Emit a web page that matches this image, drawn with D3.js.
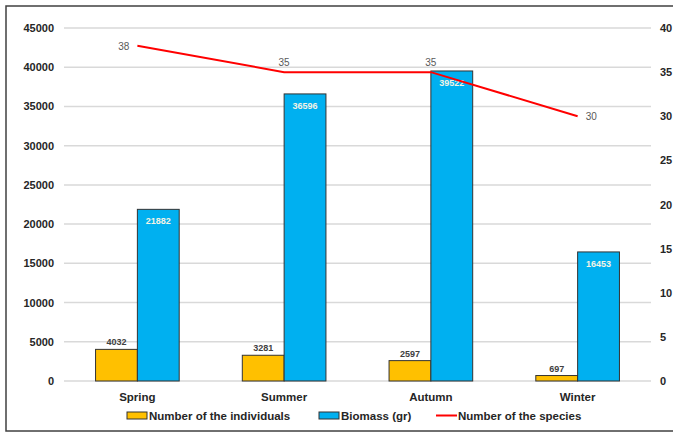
<!DOCTYPE html>
<html><head><meta charset="utf-8">
<script src="https://cdn.jsdelivr.net/npm/d3@7"></script>
<style>body{margin:0;background:#fff}svg{display:block;font-family:Arial,"Liberation Sans",sans-serif}</style>
</head><body><svg id="c" width="673" height="434"></svg>
<script>
const categories = ["Spring","Summer","Autumn","Winter"];
const individuals = [4032,3281,2597,697];
const biomass = [21882,36596,39522,16453];
const species = [38,35,35,30];
const leftTicks = [0,5000,10000,15000,20000,25000,30000,35000,40000,45000];
const rightTicks = [0,5,10,15,20,25,30,35,40];
const seriesNames = ["Number of the individuals","Biomass (gr)","Number of the species"];

const svg = d3.select("#c");
svg.append("rect").attr("x",6).attr("y",6).attr("width",700).attr("height",425)
  .attr("fill","#fff").attr("stroke","#404040").attr("stroke-width",1.5);

const L=64, R=651, T=28, B=381;
const x = d3.scaleBand().domain(categories).range([L,R]).paddingInner(0.43).paddingOuter(0.215);
const yl = d3.scaleLinear().domain([0,45000]).range([B,T]);
const yr = d3.scaleLinear().domain([0,40]).range([B,T]);

// grid
svg.append("g").selectAll("line").data(leftTicks).join("line")
  .attr("x1",L).attr("x2",R).attr("y1",d=>yl(d)).attr("y2",d=>yl(d))
  .attr("stroke","#d9d9d9").attr("stroke-width",1.5);
// left axis
const la = svg.append("g").attr("transform",`translate(${L},0)`)
  .call(d3.axisLeft(yl).tickValues(leftTicks).tickSize(0).tickPadding(10).tickFormat(d3.format("d")));
la.select(".domain").remove();
la.selectAll("text").attr("font-size",11).attr("font-weight","bold").attr("fill","#262626").attr("font-family","Arial");
// right axis
const ra = svg.append("g").attr("transform",`translate(${R},0)`)
  .call(d3.axisRight(yr).tickValues(rightTicks).tickSize(0).tickPadding(9));
ra.select(".domain").remove();
ra.selectAll("text").attr("font-size",11).attr("font-weight","bold").attr("fill","#262626").attr("font-family","Arial");

const bw = x.bandwidth()/2;
// bars
svg.append("g").selectAll("rect").data(categories).join("rect")
  .attr("x",d=>x(d)).attr("width",bw)
  .attr("y",(d,i)=>yl(individuals[i])).attr("height",(d,i)=>B-yl(individuals[i]))
  .attr("fill","#FFC000").attr("stroke","#333").attr("stroke-width",1);
svg.append("g").selectAll("rect").data(categories).join("rect")
  .attr("x",d=>x(d)+bw).attr("width",bw)
  .attr("y",(d,i)=>yl(biomass[i])).attr("height",(d,i)=>B-yl(biomass[i]))
  .attr("fill","#00B0F0").attr("stroke","#333").attr("stroke-width",1);
// value labels
svg.append("g").selectAll("text").data(categories).join("text")
  .attr("x",d=>x(d)+bw/2).attr("y",(d,i)=>yl(individuals[i])-4)
  .attr("text-anchor","middle").attr("font-size",9).attr("font-weight","bold").attr("fill","#404040")
  .text((d,i)=>individuals[i]);
svg.append("g").selectAll("text").data(categories).join("text")
  .attr("x",d=>x(d)+bw*1.5).attr("y",(d,i)=>yl(biomass[i])+15)
  .attr("text-anchor","middle").attr("font-size",9).attr("font-weight","bold").attr("fill","#f3f3e6")
  .text((d,i)=>biomass[i]);
// category labels
svg.append("g").selectAll("text").data(categories).join("text")
  .attr("x",d=>x(d)+bw).attr("y",401)
  .attr("text-anchor","middle").attr("font-size",11.5).attr("font-weight","bold").attr("fill","#262626")
  .text(d=>d);
// species line
const line = d3.line().x(d=>x(d)+bw).y((d,i)=>yr(species[i]));
svg.append("path").datum(categories).attr("d",line).attr("fill","none").attr("stroke","#FF0000").attr("stroke-width",2);
const off = [[-8,4,"end"],[0,-6,"middle"],[0,-6,"middle"],[8,4,"start"]];
svg.append("g").selectAll("text").data(categories).join("text")
  .attr("x",(d,i)=>x(d)+bw+off[i][0]).attr("y",(d,i)=>yr(species[i])+off[i][1])
  .attr("text-anchor",(d,i)=>off[i][2]).attr("font-size",10).attr("fill","#595959")
  .text((d,i)=>species[i]);
// legend
const lg = svg.append("g").attr("font-size",11.5).attr("font-weight","bold").attr("fill","#262626");
const items=[{x:127,t:"rect",c:"#FFC000"},{x:319,t:"rect",c:"#00B0F0"},{x:436,t:"line",c:"#FF0000"}];
items.forEach((it,i)=>{
  if(it.t==="rect") lg.append("rect").attr("x",it.x).attr("y",412).attr("width",20).attr("height",7).attr("fill",it.c).attr("stroke","#333").attr("stroke-width",1);
  else lg.append("line").attr("x1",it.x).attr("x2",it.x+21).attr("y1",415.5).attr("y2",415.5).attr("stroke",it.c).attr("stroke-width",2);
  lg.append("text").attr("x",it.x+22).attr("y",420).text(seriesNames[i]);
});
</script>
</body></html>
